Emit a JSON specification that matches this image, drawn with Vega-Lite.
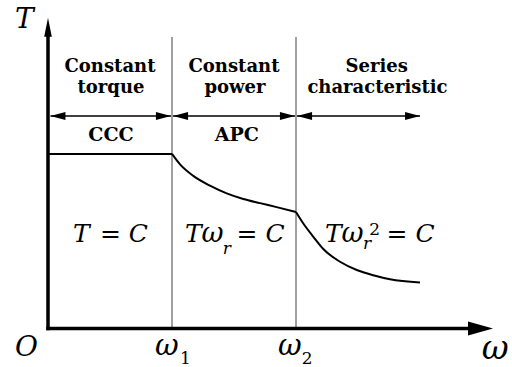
{
  "$schema": "https://vega.github.io/schema/vega-lite/v6.json",
  "width": 512,
  "height": 367,
  "padding": 0,
  "autosize": {"type": "fit", "contains": "padding"},
  "background": "white",
  "config": {"view": {"stroke": null}, "text": {"font": "DejaVu Serif"}},
  "datasets": {
    "curve": [
      {"w": 0, "t": 1, "seg": "a"}, {"w": 1, "t": 1, "seg": "a"},
      {"w": 1, "t": 1, "seg": "b"}, {"w": 1.065, "t": 0.94, "seg": "b"}, {"w": 1.172, "t": 0.874, "seg": "b"}, {"w": 1.306, "t": 0.818, "seg": "b"}, {"w": 1.441, "t": 0.774, "seg": "b"}, {"w": 1.575, "t": 0.742, "seg": "b"}, {"w": 1.71, "t": 0.718, "seg": "b"}, {"w": 1.844, "t": 0.695, "seg": "b"}, {"w": 2.0, "t": 0.667, "seg": "b"},
      {"w": 2.0, "t": 0.667, "seg": "c"}, {"w": 2.059, "t": 0.601, "seg": "c"}, {"w": 2.14, "t": 0.525, "seg": "c"}, {"w": 2.22, "t": 0.455, "seg": "c"}, {"w": 2.355, "t": 0.382, "seg": "c"}, {"w": 2.49, "t": 0.335, "seg": "c"}, {"w": 2.623, "t": 0.305, "seg": "c"}, {"w": 2.758, "t": 0.282, "seg": "c"}, {"w": 3.0, "t": 0.263, "seg": "c"}
    ],
    "dividers": [
      {"w": 1, "w2": 1, "t": 0, "t2": 1.669},
      {"w": 2, "w2": 2, "t": 0, "t2": 1.669}
    ],
    "axes": [
      {"w": 0, "w2": 0, "t": 0, "t2": 1.69},
      {"w": 0, "w2": 3.444, "t": 0, "t2": 0}
    ],
    "spans": [
      {"w": 0.02, "w2": 0.992, "t": 1.2175, "t2": 1.2175},
      {"w": 1.008, "w2": 1.992, "t": 1.2175, "t2": 1.2175},
      {"w": 2.008, "w2": 3.0, "t": 1.2175, "t2": 1.2175}
    ],
    "heads": [
      {"w": 0, "t": 1.726, "kind": "up"},
      {"w": 3.488, "t": 0, "kind": "right"},
      {"w": 0.08, "t": 1.2175, "kind": "sl"},
      {"w": 0.931, "t": 1.2175, "kind": "sr"},
      {"w": 1.069, "t": 1.2175, "kind": "sl"},
      {"w": 1.931, "t": 1.2175, "kind": "sr"},
      {"w": 2.069, "t": 1.2175, "kind": "sl"},
      {"w": 2.94, "t": 1.2175, "kind": "sr"}
    ],
    "labels": [
      {"text": "Constant", "w": 0.5, "t": 1.4706, "role": "header"},
      {"text": "torque", "w": 0.508, "t": 1.35, "role": "header"},
      {"text": "Constant", "w": 1.5, "t": 1.467, "role": "header"},
      {"text": "power", "w": 1.508, "t": 1.35, "role": "header"},
      {"text": "Series", "w": 2.651, "t": 1.469, "role": "header"},
      {"text": "characteristic", "w": 2.657, "t": 1.35, "role": "header"},
      {"text": "CCC", "w": 0.508, "t": 1.072, "role": "tag"},
      {"text": "APC", "w": 1.522, "t": 1.072, "role": "tag"},
      {"text": "T", "w": 0.202, "t": 0.497, "role": "eq"},
      {"text": "= C", "w": 0.419, "t": 0.497, "role": "eq"},
      {"text": "T", "w": 1.105, "t": 0.497, "role": "eq"},
      {"text": "= C", "w": 1.52, "t": 0.497, "role": "eq"},
      {"text": "T", "w": 2.234, "t": 0.497, "role": "eq"},
      {"text": "= C", "w": 2.73, "t": 0.497, "role": "eq"},
      {"text": "ω", "w": 1.238, "t": 0.497, "role": "eqw"},
      {"text": "ω", "w": 2.367, "t": 0.497, "role": "eqw"},
      {"text": "r", "w": 1.41, "t": 0.429, "role": "sub"},
      {"text": "r", "w": 2.54, "t": 0.458, "role": "sub"},
      {"text": "2", "w": 2.59, "t": 0.537, "role": "num"},
      {"text": "1", "w": 1.065, "t": -0.203, "role": "num"},
      {"text": "2", "w": 2.046, "t": -0.203, "role": "num"},
      {"text": "ω", "w": 0.863, "t": -0.153, "role": "axw"},
      {"text": "ω", "w": 1.855, "t": -0.153, "role": "axw"},
      {"text": "ω", "w": 3.498, "t": -0.175, "role": "bigw"},
      {"text": "T", "w": -0.266, "t": 1.721, "role": "axlbl"},
      {"text": "O", "w": -0.266, "t": -0.158, "role": "axlbl"}
    ]
  },
  "encoding": {
    "x": {"field": "w", "type": "quantitative", "scale": {"domain": [-0.3871, 3.7419], "nice": false, "zero": false}, "axis": null},
    "y": {"field": "t", "type": "quantitative", "scale": {"domain": [-0.1921, 1.8814], "nice": false, "zero": false}, "axis": null}
  },
  "layer": [
    {
      "data": {"name": "dividers"},
      "mark": {"type": "rule", "color": "#808080", "strokeWidth": 1.5},
      "encoding": {"x2": {"field": "w2"}, "y2": {"field": "t2"}}
    },
    {
      "data": {"name": "axes"},
      "mark": {"type": "rule", "color": "black", "strokeWidth": 3.5, "strokeCap": "square"},
      "encoding": {"x2": {"field": "w2"}, "y2": {"field": "t2"}}
    },
    {
      "data": {"name": "spans"},
      "mark": {"type": "rule", "color": "black", "strokeWidth": 1.5},
      "encoding": {"x2": {"field": "w2"}, "y2": {"field": "t2"}}
    },
    {
      "data": {"name": "curve"},
      "mark": {"type": "line", "color": "black", "strokeWidth": 2, "interpolate": "monotone"},
      "encoding": {"detail": {"field": "seg", "type": "nominal"}}
    },
    {
      "data": {"name": "heads"},
      "transform": [{"filter": "datum.kind === 'up'"}],
      "mark": {"type": "point", "filled": true, "color": "black", "opacity": 1, "shape": "M0,-1L0.4,1L-0.4,1Z", "size": 361, "strokeWidth": 0}
    },
    {
      "data": {"name": "heads"},
      "transform": [{"filter": "datum.kind === 'right'"}],
      "mark": {"type": "point", "filled": true, "color": "black", "opacity": 1, "shape": "M1,0L-1,0.56L-1,-0.56Z", "size": 625, "strokeWidth": 0}
    },
    {
      "data": {"name": "heads"},
      "transform": [{"filter": "datum.kind === 'sr'"}],
      "mark": {"type": "point", "filled": true, "color": "black", "opacity": 1, "shape": "M1,0L-1,0.53L-1,-0.53Z", "size": 225, "strokeWidth": 0}
    },
    {
      "data": {"name": "heads"},
      "transform": [{"filter": "datum.kind === 'sl'"}],
      "mark": {"type": "point", "filled": true, "color": "black", "opacity": 1, "shape": "M-1,0L1,0.53L1,-0.53Z", "size": 225, "strokeWidth": 0}
    },
    {
      "data": {"name": "labels"},
      "transform": [{"filter": "datum.role === 'header'"}],
      "mark": {"type": "text", "fontWeight": "bold", "fontSize": 18, "align": "center", "baseline": "alphabetic", "color": "black"},
      "encoding": {"text": {"field": "text"}}
    },
    {
      "data": {"name": "labels"},
      "transform": [{"filter": "datum.role === 'tag'"}],
      "mark": {"type": "text", "fontWeight": "bold", "fontSize": 19, "align": "center", "baseline": "alphabetic", "color": "black"},
      "encoding": {"text": {"field": "text"}}
    },
    {
      "data": {"name": "labels"},
      "transform": [{"filter": "datum.role === 'eq'"}],
      "mark": {"type": "text", "fontStyle": "italic", "fontSize": 25, "align": "left", "baseline": "alphabetic", "color": "black"},
      "encoding": {"text": {"field": "text"}}
    },
    {
      "data": {"name": "labels"},
      "transform": [{"filter": "datum.role === 'eqw'"}],
      "mark": {"type": "text", "fontStyle": "italic", "fontSize": 27, "align": "left", "baseline": "alphabetic", "color": "black"},
      "encoding": {"text": {"field": "text"}}
    },
    {
      "data": {"name": "labels"},
      "transform": [{"filter": "datum.role === 'sub'"}],
      "mark": {"type": "text", "fontStyle": "italic", "fontSize": 17, "align": "left", "baseline": "alphabetic", "color": "black"},
      "encoding": {"text": {"field": "text"}}
    },
    {
      "data": {"name": "labels"},
      "transform": [{"filter": "datum.role === 'num'"}],
      "mark": {"type": "text", "fontSize": 17, "align": "left", "baseline": "alphabetic", "color": "black"},
      "encoding": {"text": {"field": "text"}}
    },
    {
      "data": {"name": "labels"},
      "transform": [{"filter": "datum.role === 'axw'"}],
      "mark": {"type": "text", "fontStyle": "italic", "fontSize": 29, "align": "left", "baseline": "alphabetic", "color": "black"},
      "encoding": {"text": {"field": "text"}}
    },
    {
      "data": {"name": "labels"},
      "transform": [{"filter": "datum.role === 'bigw'"}],
      "mark": {"type": "text", "fontStyle": "italic", "fontSize": 33, "align": "left", "baseline": "alphabetic", "color": "black"},
      "encoding": {"text": {"field": "text"}}
    },
    {
      "data": {"name": "labels"},
      "transform": [{"filter": "datum.role === 'axlbl'"}],
      "mark": {"type": "text", "fontStyle": "italic", "fontSize": 28, "align": "left", "baseline": "alphabetic", "color": "black"},
      "encoding": {"text": {"field": "text"}}
    }
  ]
}
